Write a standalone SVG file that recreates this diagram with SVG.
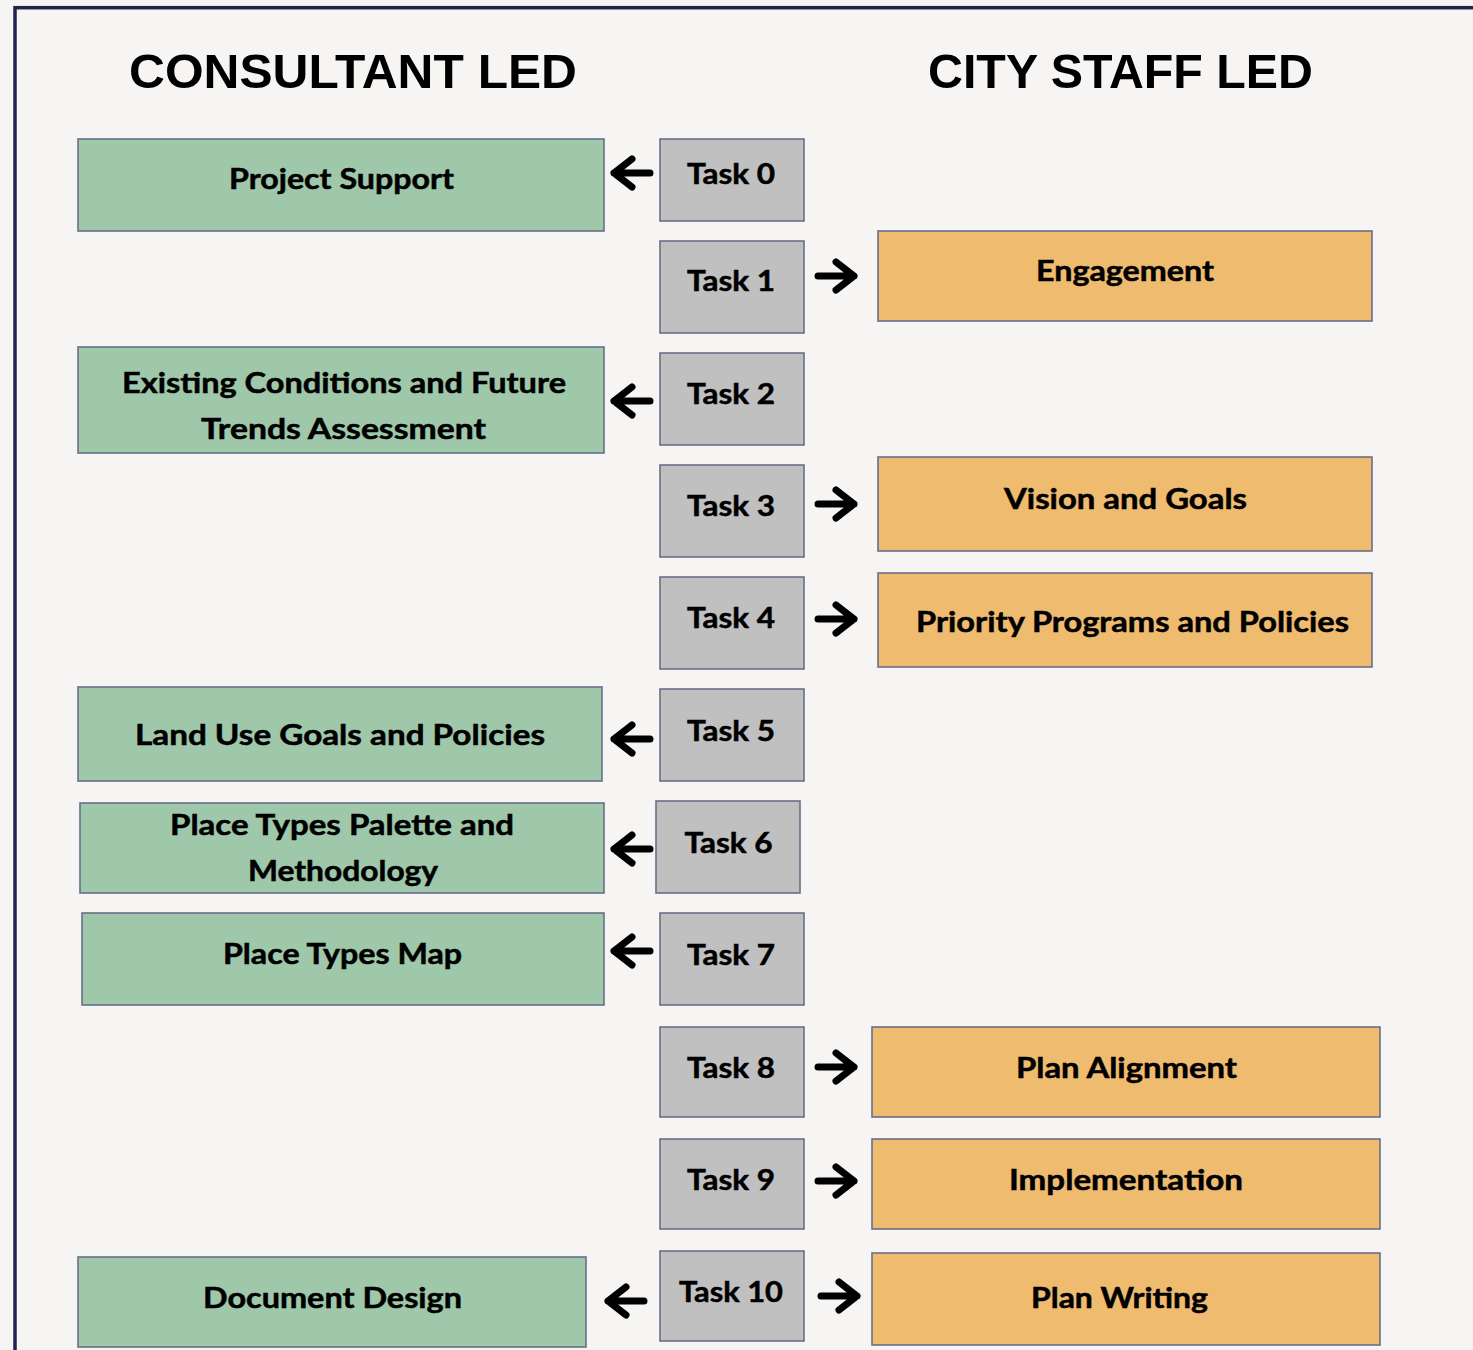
<svg xmlns="http://www.w3.org/2000/svg" width="1473" height="1350" viewBox="0 0 1473 1350">
<style>
.bg{fill:#f6f5f3}
.frame{fill:none;stroke:#22234d;stroke-width:3.5}
.g{fill:#9fc7aa;stroke:#6a6e8a;stroke-width:1.6}
.o{fill:#efbb6f;stroke:#6a6e8a;stroke-width:1.6}
.t{fill:#c0c0c0;stroke:#6a6e8a;stroke-width:1.6}
.lbl{font-family:Lato,"Open Sans","Liberation Sans",sans-serif;font-weight:700;font-size:28px;fill:#000;stroke:#000;stroke-width:0.5;text-anchor:middle}
.hdr{font-family:"Liberation Sans",Arial,sans-serif;font-weight:700;font-size:49px;fill:#000;text-anchor:middle}
.arr{fill:none;stroke:#000;stroke-width:7;stroke-linecap:round;stroke-linejoin:round}
</style>
<rect class="bg" x="0" y="0" width="1473" height="1350"/>
<rect class="frame" x="15" y="7.7" width="1500" height="1400"/>
<g id="headers">
<text class="hdr" x="353" y="88" textLength="448" lengthAdjust="spacingAndGlyphs">CONSULTANT LED</text>
<text class="hdr" x="1120.5" y="88" textLength="385" lengthAdjust="spacingAndGlyphs">CITY STAFF LED</text>
</g>
<g id="connectors">
<path class="arr" d="M650,173 H614 M632,159 L614,173 L632,187"/>
<path class="arr" d="M650,401 H614 M632,387 L614,401 L632,415"/>
<path class="arr" d="M650,739 H614 M632,725 L614,739 L632,753"/>
<path class="arr" d="M650,849 H614 M632,835 L614,849 L632,863"/>
<path class="arr" d="M650,951 H614 M632,937 L614,951 L632,965"/>
<path class="arr" d="M644,1301 H608 M626,1287 L608,1301 L626,1315"/>
<path class="arr" d="M818,276 H854 M836,262 L854,276 L836,290"/>
<path class="arr" d="M818,504 H854 M836,490 L854,504 L836,518"/>
<path class="arr" d="M818,619 H854 M836,605 L854,619 L836,633"/>
<path class="arr" d="M818,1067 H854 M836,1053 L854,1067 L836,1081"/>
<path class="arr" d="M818,1181 H854 M836,1167 L854,1181 L836,1195"/>
<path class="arr" d="M821,1296 H857 M839,1282 L857,1296 L839,1310"/>
</g>
<g id="task0"><rect class="t" x="660" y="139" width="144" height="82"/><text class="lbl" x="731" y="184" textLength="88" lengthAdjust="spacingAndGlyphs">Task 0</text></g>
<g id="task1"><rect class="t" x="660" y="241" width="144" height="92"/><text class="lbl" x="731" y="291" textLength="88" lengthAdjust="spacingAndGlyphs">Task 1</text></g>
<g id="task2"><rect class="t" x="660" y="353" width="144" height="92"/><text class="lbl" x="731" y="404" textLength="88" lengthAdjust="spacingAndGlyphs">Task 2</text></g>
<g id="task3"><rect class="t" x="660" y="465" width="144" height="92"/><text class="lbl" x="731" y="516" textLength="88" lengthAdjust="spacingAndGlyphs">Task 3</text></g>
<g id="task4"><rect class="t" x="660" y="577" width="144" height="92"/><text class="lbl" x="731" y="628" textLength="88" lengthAdjust="spacingAndGlyphs">Task 4</text></g>
<g id="task5"><rect class="t" x="660" y="689" width="144" height="92"/><text class="lbl" x="731" y="741" textLength="88" lengthAdjust="spacingAndGlyphs">Task 5</text></g>
<g id="task6"><rect class="t" x="656" y="801" width="144" height="92"/><text class="lbl" x="728.5" y="853" textLength="88" lengthAdjust="spacingAndGlyphs">Task 6</text></g>
<g id="task7"><rect class="t" x="660" y="913" width="144" height="92"/><text class="lbl" x="731" y="965" textLength="88" lengthAdjust="spacingAndGlyphs">Task 7</text></g>
<g id="task8"><rect class="t" x="660" y="1027" width="144" height="90"/><text class="lbl" x="731" y="1078" textLength="88" lengthAdjust="spacingAndGlyphs">Task 8</text></g>
<g id="task9"><rect class="t" x="660" y="1139" width="144" height="90"/><text class="lbl" x="731" y="1190" textLength="88" lengthAdjust="spacingAndGlyphs">Task 9</text></g>
<g id="task10"><rect class="t" x="660" y="1251" width="144" height="90"/><text class="lbl" x="731" y="1302" textLength="104" lengthAdjust="spacingAndGlyphs">Task 10</text></g>
<g id="project-support"><rect class="g" x="78" y="139" width="526" height="92"/><text class="lbl" x="341.5" y="189" textLength="225" lengthAdjust="spacingAndGlyphs">Project Support</text></g>
<g id="existing-conditions"><rect class="g" x="78" y="347" width="526" height="106"/><text class="lbl" x="344" y="393" textLength="444" lengthAdjust="spacingAndGlyphs">Existing Conditions and Future</text><text class="lbl" x="343.5" y="439" textLength="285" lengthAdjust="spacingAndGlyphs">Trends Assessment</text></g>
<g id="land-use"><rect class="g" x="78" y="687" width="524" height="94"/><text class="lbl" x="340" y="745" textLength="410" lengthAdjust="spacingAndGlyphs">Land Use Goals and Policies</text></g>
<g id="place-types-palette"><rect class="g" x="80" y="803" width="524" height="90"/><text class="lbl" x="342" y="835" textLength="344" lengthAdjust="spacingAndGlyphs">Place Types Palette and</text><text class="lbl" x="343" y="881" textLength="190" lengthAdjust="spacingAndGlyphs">Methodology</text></g>
<g id="place-types-map"><rect class="g" x="82" y="913" width="522" height="92"/><text class="lbl" x="342.5" y="964" textLength="239" lengthAdjust="spacingAndGlyphs">Place Types Map</text></g>
<g id="document-design"><rect class="g" x="78" y="1257" width="508" height="90"/><text class="lbl" x="332.5" y="1308" textLength="259" lengthAdjust="spacingAndGlyphs">Document Design</text></g>
<g id="engagement"><rect class="o" x="878" y="231" width="494" height="90"/><text class="lbl" x="1125" y="281" textLength="178" lengthAdjust="spacingAndGlyphs">Engagement</text></g>
<g id="vision-goals"><rect class="o" x="878" y="457" width="494" height="94"/><text class="lbl" x="1125.5" y="509" textLength="243" lengthAdjust="spacingAndGlyphs">Vision and Goals</text></g>
<g id="priority-programs"><rect class="o" x="878" y="573" width="494" height="94"/><text class="lbl" x="1132.5" y="632" textLength="433" lengthAdjust="spacingAndGlyphs">Priority Programs and Policies</text></g>
<g id="plan-alignment"><rect class="o" x="872" y="1027" width="508" height="90"/><text class="lbl" x="1126.5" y="1078" textLength="221" lengthAdjust="spacingAndGlyphs">Plan Alignment</text></g>
<g id="implementation"><rect class="o" x="872" y="1139" width="508" height="90"/><text class="lbl" x="1126" y="1190" textLength="234" lengthAdjust="spacingAndGlyphs">Implementation</text></g>
<g id="plan-writing"><rect class="o" x="872" y="1253" width="508" height="92"/><text class="lbl" x="1119.5" y="1308" textLength="177" lengthAdjust="spacingAndGlyphs">Plan Writing</text></g>
</svg>
